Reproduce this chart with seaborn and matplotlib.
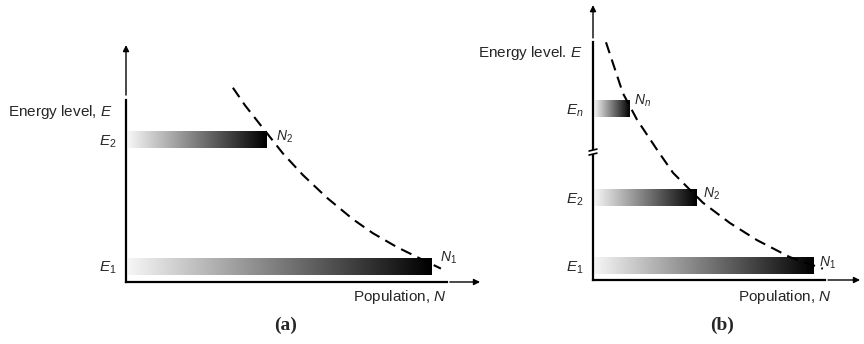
import numpy as np
import matplotlib
matplotlib.use("Agg")
import matplotlib.pyplot as plt
import seaborn as sns
from matplotlib.colors import LinearSegmentedColormap
from matplotlib.patches import Rectangle

# ---- data ----
# panel (a): two levels
a_levels = [1, 2]
a_level_labels = ["$E_1$", "$E_2$"]
a_pop = [95.3, 43.9]
a_pop_labels = ["$N_1$", "$N_2$"]
a_curve_n = [33.3, 37.1, 43.3, 48.9, 55.1, 62.6, 70.7, 76.9, 84.4, 91.6, 98.1]
a_curve_e = [2.41, 2.27, 2.07, 1.89, 1.72, 1.54, 1.37, 1.26, 1.15, 1.06, 0.98]

# panel (b): n levels, axis broken between E2 and En
b_levels = [1, 2, 3.31]
b_level_labels = ["$E_1$", "$E_2$", "$E_n$"]
b_pop = [95.3, 44.8, 15.9]
b_pop_labels = ["$N_1$", "$N_2$", "$N_n$"]
b_curve_n = [5.6, 12.9, 19.0, 27.6, 34.5, 41.8, 47.4, 59.1, 70.7, 84.9, 99.1]
b_curve_e = [4.29, 3.54, 3.15, 2.71, 2.37, 2.12, 1.93, 1.63, 1.38, 1.13, 0.96]

sns.set_style("white")
plt.rcParams["font.family"] = ["Liberation Sans", "DejaVu Sans"]
plt.rcParams["mathtext.fontset"] = "custom"
plt.rcParams["mathtext.it"] = "Liberation Sans:italic"
plt.rcParams["mathtext.rm"] = "Liberation Sans"

grad = LinearSegmentedColormap.from_list("g", ["#f6f6f6", "#000000"])
ramp = np.linspace(0, 1, 256).reshape(1, -1)

fig = plt.figure(figsize=(8.64, 3.44), dpi=100)
ax_a = fig.add_axes([126 / 864, 62 / 344, 321 / 864, 182 / 344])
ax_b = fig.add_axes([593 / 864, 64 / 344, 232 / 864, 238 / 344])


def draw_panel(ax, levels, level_labels, pops, pop_labels, cn, ce, ylim, bar_h,
               ylabel, ylabel_pos, xlabel_pos, label_offsets, arrow_y, arrow_x):
    for lev, p in zip(levels, pops):
        ax.imshow(ramp, cmap=grad, aspect="auto", interpolation="bilinear",
                  extent=[0.6, p, lev - bar_h / 2, lev + bar_h / 2], zorder=2)
    sns.lineplot(x=cn, y=ce, ax=ax, color="black", lw=1.5, sort=False,
                 estimator=None, linestyle=(0, (5.5, 3.2)), zorder=3)
    for ln in ax.lines:
        ln.set_clip_on(False)
    for lev, p, lab, off in zip(levels, pops, pop_labels, label_offsets):
        ax.annotate(lab, xy=(p, lev + bar_h / 2), xytext=off,
                    textcoords="offset pixels", fontsize=10, va="center", ha="left")
    ax.set_xlim(0, 100)
    ax.set_ylim(*ylim)
    ax.set_xticks([])
    ax.set_yticks(levels)
    ax.set_yticklabels(level_labels, fontsize=11)
    ax.tick_params(axis="y", length=0, pad=7)
    for s in ["top", "right"]:
        ax.spines[s].set_visible(False)
    for s in ["left", "bottom"]:
        ax.spines[s].set_linewidth(1.6)
        ax.spines[s].set_color("black")
    ax.text(ylabel_pos[0], ylabel_pos[1], ylabel, transform=ax.transAxes,
            ha="right", va="center", fontsize=11)
    ax.text(xlabel_pos[0], xlabel_pos[1], "Population, $N$", transform=ax.transAxes,
            ha="right", va="center", fontsize=11)
    ax.annotate("", xy=(0, arrow_y[1]), xytext=(0, arrow_y[0]), xycoords="axes fraction",
                arrowprops=dict(arrowstyle="-|>", lw=1, color="black", mutation_scale=9,
                                shrinkA=0, shrinkB=0))
    ax.annotate("", xy=(arrow_x[1], 0), xytext=(arrow_x[0], 0), xycoords="axes fraction",
                arrowprops=dict(arrowstyle="-|>", lw=1, color="black", mutation_scale=9,
                                shrinkA=0, shrinkB=0))


draw_panel(ax_a, a_levels, a_level_labels, a_pop, a_pop_labels, a_curve_n, a_curve_e,
           (0.874, 2.313), 0.134, "Energy level, $E$", (-0.04, 0.934), (1.0, -0.082),
           [(8, 0), (9, -6)], (1.027, 1.302), (1.009, 1.103))
draw_panel(ax_b, b_levels, b_level_labels, b_pop, b_pop_labels, b_curve_n, b_curve_e,
           (0.794, 4.294), 0.25, "Energy level. $E$", (-0.043, 0.954), (1.03, -0.071),
           [(5, -5), (6, -4), (4, 0)], (1.017, 1.155), (1.013, 1.151))

# axis break on panel (b)
ax_b.add_patch(Rectangle((-0.02, 0.529), 0.04, 0.017, transform=ax_b.transAxes,
                         facecolor="white", edgecolor="none", clip_on=False, zorder=5))
for yy in (0.529, 0.546):
    ax_b.plot([-0.017, 0.017], [yy - 0.004, yy + 0.004], transform=ax_b.transAxes,
              color="black", lw=1.2, clip_on=False, zorder=6)

fig.text(286 / 864, 1 - 325 / 344, "(a)", family="Liberation Serif", weight="bold",
         fontsize=14, ha="center", va="center")
fig.text(722 / 864, 1 - 325 / 344, "(b)", family="Liberation Serif", weight="bold",
         fontsize=14, ha="center", va="center")

fig.savefig("out.png", dpi=100)
